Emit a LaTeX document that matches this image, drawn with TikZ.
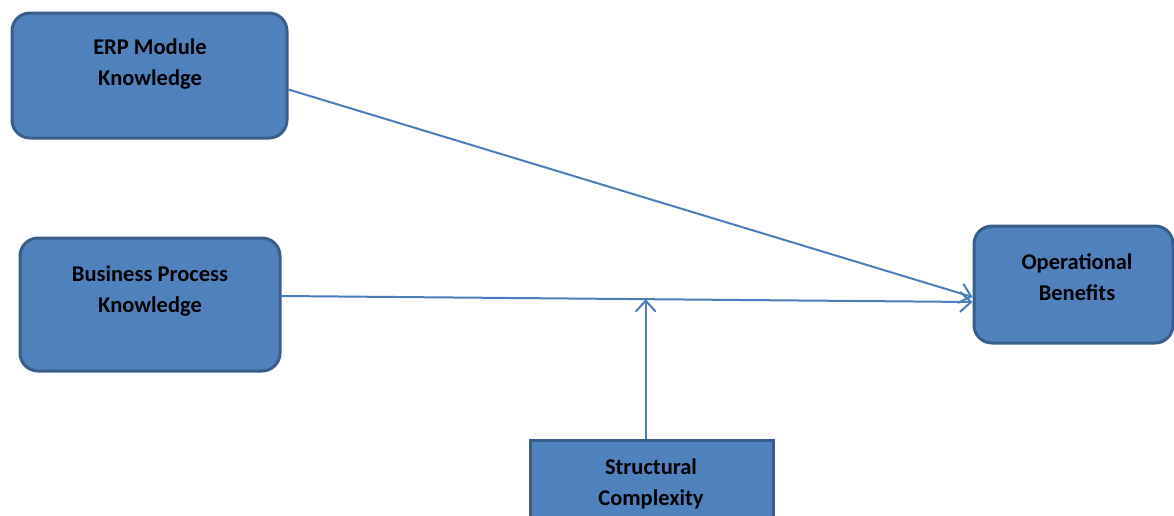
\documentclass[tikz,border=0pt]{standalone}
\usepackage{fontspec}
\setmainfont{Carlito}
\usetikzlibrary{arrows.meta,calc}
\definecolor{boxfill}{HTML}{4F81BD}
\definecolor{boxline}{HTML}{385D8A}
\definecolor{linkblue}{HTML}{4A7EBB}
\begin{document}
\begin{tikzpicture}[x=1pt,y=-1pt,
  box/.style={draw=boxline, fill=boxfill, line width=3pt, rounded corners=18pt, inner sep=0pt},
  sqbox/.style={box, rounded corners=0pt},
  lbl/.style={font=\bfseries\fontsize{22.5}{31}\selectfont, align=center, text=black, inner sep=0pt},
  link/.style={draw=linkblue, line width=2pt, -{Straight Barb[length=11pt,width=20pt,line width=2pt]}}]
\useasboundingbox (0,0) rectangle (1174,515);
\clip (0,0) rectangle (1174,515);

% boxes
\node[box, minimum width=275pt, minimum height=125pt] (erp) at (149.5,75.5) {};
\node[box, minimum width=260pt, minimum height=133pt] (bp) at (150,304.5) {};
\node[box, minimum width=199pt, minimum height=117pt] (ob) at (1073.5,284.5) {};
\node[sqbox, minimum width=243pt, minimum height=120pt] (sc) at (651.5,500) {};

% labels
\node[lbl] (erpl) at (150,64.5) {ERP Module\\Knowledge};
\node[lbl] (bpl) at (150,291) {Business Process\\Knowledge};
\node[lbl] (obl) at (1077,277) {Operational\\Benefits};
\node[lbl] (scl) at (651,483.5) {Structural\\Complexity};

% connection points
\coordinate (erpout) at ($(erp.east)+(0,14)$);
\coordinate (bpout) at ($(bp.east)+(0,-8.5)$);
\coordinate (obin1) at ($(ob.west)+(0,12.5)$);
\coordinate (obin2) at ($(ob.west)+(0,17.5)$);
\coordinate (mod) at ($(bpout)!0.527!(obin2)$);

% connectors
\draw[link] (erpout) -- (obin1);
\draw[link] (bpout) -- (obin2);
\draw[link] (mod |- sc.north) -- (mod);
\end{tikzpicture}
\end{document}
